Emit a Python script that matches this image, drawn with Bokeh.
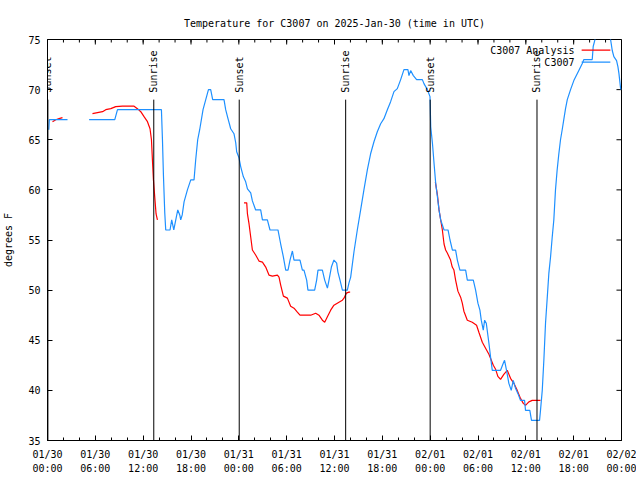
import math
from bokeh.plotting import figure
from bokeh.models import Range1d, FixedTicker, LinearAxis, Label, BoxAnnotation
from bokeh.embed import file_html
from bokeh.resources import INLINE

NaN = float("nan")

# ---------------- data (hours since 2025-01-30 00:00 UTC, degrees F) ----------------
tick_hours = [0, 6, 12, 18, 24, 30, 36, 42, 48, 54, 60, 66, 72]
tick_labels = ["01/30\n00:00", "01/30\n06:00", "01/30\n12:00", "01/30\n18:00",
               "01/31\n00:00", "01/31\n06:00", "01/31\n12:00", "01/31\n18:00",
               "02/01\n00:00", "02/01\n06:00", "02/01\n12:00", "02/01\n18:00",
               "02/02\n00:00"]
minor_tick_hours = list(range(0, 73, 2))
y_ticks = [35, 40, 45, 50, 55, 60, 65, 70, 75]

event_hours = [0.05, 13.33, 24.05, 37.4, 48.0, 61.4]
event_names = ["Sunset", "Sunrise", "Sunset", "Sunrise", "Sunset", "Sunrise"]

analysis_hours = [0.63, 1.04, 1.45, 1.88, NaN,
                  5.64, 6.27, 6.90, 7.31, 7.94, 8.56, 9.40, 10.86, 11.28, 11.70, 12.11, 12.54,
                  12.86, 13.04, 13.16, 13.29, 13.45, 13.62, 13.79, NaN,
                  24.65, 24.99, 25.08, 25.28, 25.49, 25.70, 26.11, 26.53, 26.96, 27.37, 27.78,
                  28.21, 28.84, 29.04, 29.25, 29.59, 30.09, 30.50, 30.92, 31.34, 31.67, 33.01,
                  33.64, 34.05, 34.48, 34.77, 35.14, 35.52, 35.93, 36.56, 36.99, 37.19, 37.49,
                  37.81, 37.96, NaN,
                  48.65, 48.91, 49.11, 49.32, 49.53, 49.74, 49.94, 50.15, 50.56, 50.77, 50.98,
                  51.19, 51.48, 51.82, 52.03, 52.23, 52.66, 53.28, 53.82, 54.11, 54.54, 54.95,
                  55.37, 55.67, 55.92, 56.21, 56.49, 56.83, 57.24, 57.67, 58.08, 58.50, 58.92,
                  59.33, 59.68, 59.96, 60.38, 60.80, 61.84]
analysis_temps = [66.8, 67.0, 67.1, 67.2, NaN,
                  67.6, 67.7, 67.8, 68.0, 68.1, 68.3, 68.35, 68.35, 68.1, 67.8, 67.3, 66.8,
                  66.1, 65.0, 63.0, 61.0, 59.3, 57.6, 57.0, NaN,
                  58.7, 58.7, 57.6, 56.6, 55.3, 54.0, 53.5, 52.9, 52.8, 52.3, 51.5,
                  51.4, 51.5, 51.3, 50.5, 49.4, 49.2, 48.4, 48.2, 47.8, 47.5, 47.5,
                  47.7, 47.5, 47.0, 46.8, 47.4, 48.0, 48.5, 48.8, 49.0, 49.2, 49.7,
                  49.8, 49.8, NaN,
                  60.8, 59.5, 58.0, 57.0, 56.0, 54.6, 54.0, 53.7, 53.0, 52.3, 52.0,
                  51.0, 49.9, 49.3, 48.7, 47.9, 47.0, 46.8, 46.5, 45.8, 44.8, 44.2,
                  43.6, 43.0, 42.5, 42.1, 41.4, 41.1, 41.6, 42.0, 41.2, 40.7, 40.0,
                  39.2, 38.7, 38.5, 38.85, 39.0, 39.0]

station_hours = [0.16, 0.23, 2.51, NaN,
                 5.22, 8.44, 8.78, 14.29, 14.42, 14.54, 14.71, 14.83, 15.37, 15.58, 15.71, 15.84,
                 16.09, 16.34, 16.59, 16.71, 16.90, 17.13, 17.55, 17.97, 18.38, 18.59, 18.84,
                 19.09, 19.51, 19.85, 20.19, 20.47, 20.72, 22.14, 22.35, 22.64, 22.98, 23.39,
                 23.61, 23.73, 24.02, 24.24, 24.57, 24.86, 25.08, 25.49, 25.70, 26.11, 26.74,
                 26.96, 27.58, 27.91, 28.91, 29.25, 29.59, 29.88, 30.17, 30.42, 30.72, 30.92,
                 31.67, 31.97, 32.17, 32.51, 32.67, 33.51, 33.76, 33.93, 34.48, 34.77, 35.11,
                 35.31, 35.61, 35.93, 36.27, 36.43, 36.69, 36.99, 37.61, 37.81, 38.03, 38.44,
                 38.86, 39.28, 39.69, 40.12, 40.53, 40.95, 41.37, 41.79, 42.20, 42.63, 43.04,
                 43.46, 43.88, 44.30, 44.71, 45.21, 45.34, 45.55, 45.89, 46.30, 47.02, 47.22,
                 47.65, 47.98, 48.07, 48.16, 48.29, 48.49, 48.70, 48.91, 49.11, 49.32, 49.53,
                 49.74, 50.24, 50.49, 50.79, 51.19, 51.41, 51.73, 52.45, 52.66, 53.41, 53.70,
                 53.99, 54.24, 54.41, 54.66, 54.83, 55.04, 55.37, 55.58, 55.79, 56.83, 57.17,
                 57.33, 57.58, 57.87, 58.17, 58.42, 58.71, 59.00, 59.33, 59.84, 59.96, 60.50,
                 60.71, 61.72, 61.84, 62.06, 62.26, 62.47, 62.69, 62.89, 63.10, 63.31, 63.51,
                 63.72, 63.93, 64.14, 64.35, 64.56, 64.76, 64.98, 65.20, 65.61, 66.02, 66.65,
                 67.08, 67.28, 68.33, 68.45, 68.74, 69.12, 70.25, 70.63, 70.84, 71.04, 71.38,
                 71.55, 71.68, 71.89, 72.0]
station_temps = [66.0, 67.0, 67.0, NaN,
                 67.0, 67.0, 68.0, 68.0, 65.0, 61.5, 57.7, 56.0, 56.0, 57.0, 56.5, 56.0,
                 57.0, 58.0, 57.5, 57.0, 57.5, 58.8, 60.0, 61.0, 61.0, 63.0, 65.0,
                 66.0, 68.0, 69.0, 70.0, 70.0, 69.0, 69.0, 68.0, 67.1, 66.1, 65.6,
                 64.7, 63.8, 63.2, 62.3, 61.3, 60.8, 60.1, 59.7, 58.9, 58.0, 58.0,
                 57.0, 57.0, 56.0, 56.0, 54.6, 53.3, 52.0, 52.0, 53.0, 53.9, 53.0,
                 53.0, 52.0, 52.0, 51.0, 50.0, 50.0, 51.0, 52.0, 52.0, 51.0, 50.2,
                 51.0, 52.3, 53.0, 52.7, 51.8, 51.0, 50.0, 50.0, 50.7, 51.3, 53.8,
                 56.0, 58.0, 60.0, 62.0, 63.6, 64.8, 65.8, 66.6, 67.1, 68.0, 68.8,
                 69.8, 70.1, 71.0, 72.0, 72.0, 71.4, 71.9, 71.4, 71.0, 71.0, 70.6,
                 70.0, 69.3, 66.3, 65.6, 64.6, 62.6, 60.6, 59.3, 58.0, 57.0, 56.5,
                 56.0, 56.0, 55.0, 54.0, 54.0, 53.0, 52.0, 52.0, 51.0, 51.0, 50.0,
                 48.7, 48.0, 47.0, 46.0, 47.0, 46.7, 44.7, 43.3, 42.0, 42.0, 42.7,
                 43.0, 42.0, 40.7, 40.0, 41.0, 40.2, 39.7, 39.0, 39.0, 38.0, 38.0,
                 37.0, 37.0, 38.0, 40.0, 43.0, 46.7, 49.3, 51.7, 53.3, 55.3, 57.0,
                 60.0, 62.0, 63.6, 65.0, 66.0, 67.0, 68.1, 69.0, 70.0, 70.9, 71.9,
                 72.6, 73.0, 73.0, 74.3, 75.2, 76.0, 76.0, 75.0, 73.9, 73.3, 72.9,
                 72.3, 71.6, 70.1, 70.0]

series_names = ["C3007 Analysis", "C3007"]
series_colors = ["#ff0000", "#1e90ff"]

# ---------------- figure ----------------
FONT = "DejaVu Sans Mono"
FS = "10px"
X0, X1, Y0, Y1 = 0, 72, 35, 75

p = figure(width=636, height=478,
           x_range=Range1d(X0, X1), y_range=Range1d(Y0, Y1),
           output_backend="svg", toolbar_location=None,
           min_border_left=47, min_border_right=15, min_border_top=39, min_border_bottom=38,
           title="Temperature for C3007 on 2025-Jan-30 (time in UTC)",
           x_axis_type=None, y_axis_type=None)
p.title.align = "center"
p.title.text_font = FONT
p.title.text_font_size = FS
p.title.text_font_style = "normal"
p.title.text_color = "black"
p.title.standoff = 22
p.grid.visible = False
p.outline_line_color = "black"
p.background_fill_color = "white"
p.border_fill_color = "white"

xticker = FixedTicker(ticks=tick_hours, minor_ticks=minor_tick_hours)
yticker = FixedTicker(ticks=y_ticks, minor_ticks=[])
overrides = {float(h): lab for h, lab in zip(tick_hours, tick_labels)}


def style_axis(ax):
    ax.axis_line_color = "black"
    ax.major_tick_line_color = "black"
    ax.minor_tick_line_color = "black"
    ax.major_tick_in = 5
    ax.major_tick_out = 0
    ax.minor_tick_in = 3
    ax.minor_tick_out = 0
    ax.major_label_text_font = FONT
    ax.major_label_text_font_size = FS
    ax.major_label_text_color = "black"
    ax.axis_label_text_font = FONT
    ax.axis_label_text_font_size = FS
    ax.axis_label_text_font_style = "normal"
    ax.axis_label_text_color = "black"


xb = LinearAxis(ticker=xticker, major_label_overrides=overrides)
style_axis(xb)
xb.major_label_standoff = 8
xb.major_label_text_line_height = 1.35
p.add_layout(xb, "below")

yl = LinearAxis(ticker=yticker, axis_label="degrees F")
style_axis(yl)
yl.major_label_standoff = 7
yl.axis_label_standoff = 11
p.add_layout(yl, "left")

# mirrored ticks on the top and right frame edges (gnuplot style)
major_len_y = 0.5    # in degrees
minor_len_y = 0.3
major_len_x = 0.63   # in hours
p.segment(x0=tick_hours, y0=[Y1] * len(tick_hours), x1=tick_hours,
          y1=[Y1 - major_len_y] * len(tick_hours), line_color="black", line_width=1)
p.segment(x0=minor_tick_hours, y0=[Y1] * len(minor_tick_hours), x1=minor_tick_hours,
          y1=[Y1 - minor_len_y] * len(minor_tick_hours), line_color="black", line_width=1)
p.segment(x0=[X1] * len(y_ticks), y0=y_ticks, x1=[X1 - major_len_x] * len(y_ticks),
          y1=y_ticks, line_color="black", line_width=1)

# data lines
p.line(analysis_hours, analysis_temps, line_color=series_colors[0], line_width=1.2)
p.line(station_hours, station_temps, line_color=series_colors[1], line_width=1.2)

# sunrise / sunset markers
line_top = 69.0
label_base = 69.7
p.segment(x0=event_hours, y0=[Y0] * len(event_hours), x1=event_hours,
          y1=[line_top] * len(event_hours), line_color="black", line_width=1)
for h, name in zip(event_hours, event_names):
    p.add_layout(Label(x=h, y=label_base, text=name, angle=math.pi / 2,
                       text_align="left", text_baseline="middle",
                       text_font=FONT, text_font_size=FS, text_color="black"))

# legend (label on left, sample on right as in the original)
leg_rows = [73.95, 72.75]
for name, color, yy in zip(series_names, series_colors, leg_rows):
    p.add_layout(Label(x=66.1, y=yy, text=name, text_align="right", text_baseline="middle",
                       text_font=FONT, text_font_size=FS, text_color="black"))
    p.add_layout(BoxAnnotation(left=67.0, right=70.6, bottom=yy - 0.06, top=yy + 0.06,
                               fill_color=color, fill_alpha=1.0, line_color=None))

open("out.html", "w").write(file_html(p, INLINE))
